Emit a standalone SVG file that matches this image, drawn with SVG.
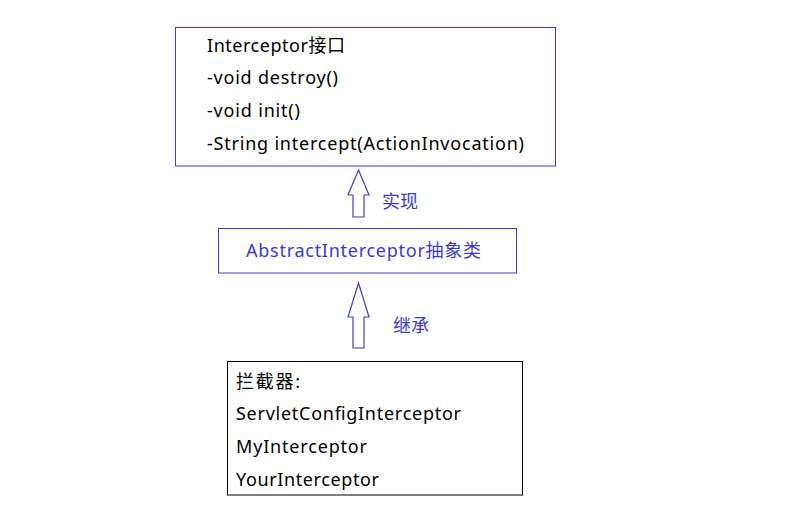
<svg xmlns="http://www.w3.org/2000/svg" width="795" height="512" viewBox="0 0 795 512">
<style>
text{font-family:"Noto Sans","Noto Sans CJK SC",sans-serif;font-size:18px;}
.k{fill:#000;}
.b{fill:#3a3ad0;}
.bx{fill:#fff;stroke:#3c3cc8;stroke-width:1;}
.bk{fill:#fff;stroke:#000;stroke-width:1;}
.ar{fill:#fff;stroke:#3c3cc8;stroke-width:1.2;}
</style>
<rect width="795" height="512" fill="#fff"/>
<g id="interceptor">
<rect class="bx" x="175.5" y="27.5" width="380" height="138.5"/>
<text class="k" x="207" y="52" textLength="138">Interceptor接口</text>
<text class="k" x="207" y="84" textLength="131">-void destroy()</text>
<text class="k" x="207" y="117" textLength="93">-void init()</text>
<text class="k" x="207" y="150" textLength="317">-String intercept(ActionInvocation)</text>
</g>
<g id="abstract">
<rect class="bx" x="218.5" y="228.5" width="298" height="44.5"/>
<text class="b" x="246" y="257" textLength="235">AbstractInterceptor抽象类</text>
</g>
<g id="impls">
<rect class="bk" x="227.5" y="361.5" width="295" height="133.5"/>
<text class="k" x="236" y="388" textLength="64">拦截器:</text>
<text class="k" x="236" y="420" textLength="225">ServletConfigInterceptor</text>
<text class="k" x="236" y="453" textLength="131">MyInterceptor</text>
<text class="k" x="236" y="486" textLength="143">YourInterceptor</text>
</g>
<g id="connectors">
<polygon class="ar" points="358.5,170 369,195 364,195 364,217 353,217 353,195 348,195"/>
<polygon class="ar" points="358.5,283 369,317 364,317 364,348 353,348 353,317 348,317"/>
<text class="b" x="382" y="208">实现</text>
<text class="b" x="393" y="332">继承</text>
</g>
</svg>
